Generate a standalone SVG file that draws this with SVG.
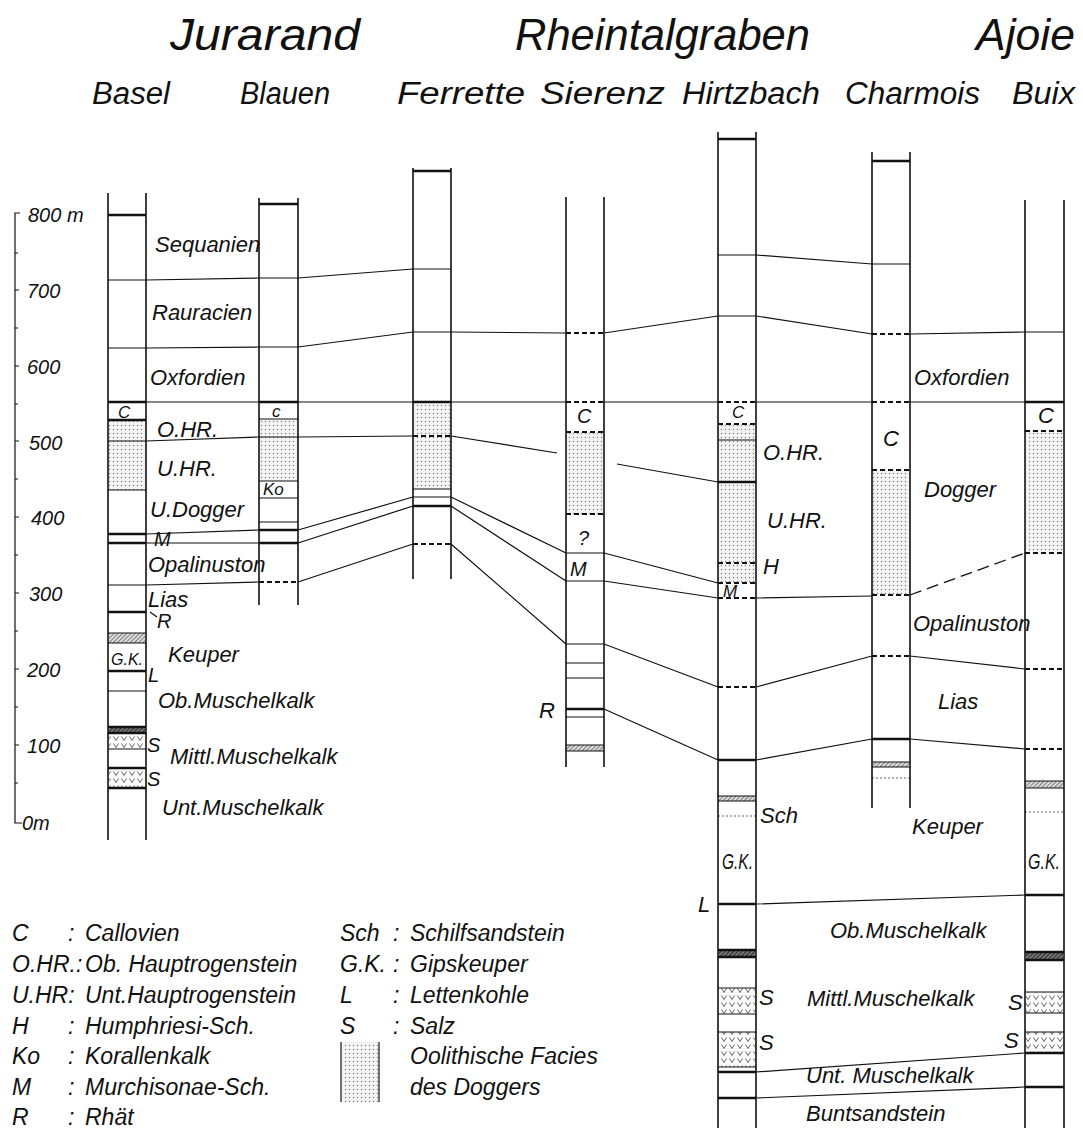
<svg xmlns="http://www.w3.org/2000/svg" width="1083" height="1128" viewBox="0 0 1083 1128">
<defs>
<style>
text{font-family:"Liberation Sans",Arial,sans-serif;font-style:italic;fill:#111}
.t1{font-size:45px}
.t2{font-size:31px}
.lb{font-size:22px}
.sm{font-size:17px}
.sc{font-size:20px}
.lg{font-size:23px}
.v{stroke:#111;stroke-width:1.6;fill:none}
.n{stroke:#111;stroke-width:1.2;fill:none}
.k{stroke:#111;stroke-width:2.6;fill:none}
.d{stroke:#111;stroke-width:1.8;fill:none;stroke-dasharray:5 3}
.o{stroke:#666;stroke-width:1;fill:none;stroke-dasharray:2 2}
.ld{stroke:#111;stroke-width:1.3;fill:none;stroke-dasharray:12 6}
.dots{fill:url(#dots)}
.hat{fill:url(#hatch)}
.dark{fill:url(#dark)}
.salt{fill:url(#salt)}
</style>
<pattern id="dots" width="4" height="4" patternUnits="userSpaceOnUse"><rect width="4" height="4" fill="#f4f4f4"/><circle cx="1.5" cy="1.5" r="0.7" fill="#777"/></pattern>
<pattern id="hatch" width="3" height="3" patternUnits="userSpaceOnUse" patternTransform="rotate(45)"><rect width="3" height="3" fill="#ddd"/><line x1="0" y1="0" x2="0" y2="3" stroke="#555" stroke-width="1.4"/></pattern>
<pattern id="dark" width="3" height="3" patternUnits="userSpaceOnUse" patternTransform="rotate(45)"><rect width="3" height="3" fill="#777"/><line x1="0" y1="0" x2="0" y2="3" stroke="#111" stroke-width="1.5"/></pattern>
<pattern id="salt" width="8" height="7" patternUnits="userSpaceOnUse"><rect width="8" height="7" fill="#fafafa"/><path d="M1.5 1.5L4 5.5L6.5 1.5" stroke="#444" stroke-width="0.8" fill="none"/></pattern>
</defs>
<rect width="1083" height="1128" fill="#fff"/>

<g id="titles">
<text class="t1" x="170" y="50" textLength="190" lengthAdjust="spacingAndGlyphs">Jurarand</text>
<text class="t1" x="515" y="50" textLength="295" lengthAdjust="spacingAndGlyphs">Rheintalgraben</text>
<text class="t1" x="976" y="50" textLength="99" lengthAdjust="spacingAndGlyphs">Ajoie</text>
<text class="t2" x="92" y="104" textLength="78" lengthAdjust="spacingAndGlyphs">Basel</text>
<text class="t2" x="240" y="104" textLength="90" lengthAdjust="spacingAndGlyphs">Blauen</text>
<text class="t2" x="397" y="104" textLength="128" lengthAdjust="spacingAndGlyphs">Ferrette</text>
<text class="t2" x="540" y="104" textLength="125" lengthAdjust="spacingAndGlyphs">Sierenz</text>
<text class="t2" x="682" y="104" textLength="138" lengthAdjust="spacingAndGlyphs">Hirtzbach</text>
<text class="t2" x="845" y="104" textLength="135" lengthAdjust="spacingAndGlyphs">Charmois</text>
<text class="t2" x="1012" y="104" textLength="63" lengthAdjust="spacingAndGlyphs">Buix</text>
</g>

<g id="scale">
<path class="n" d="M20 213H15V823H22"/>
<path class="n" d="M15 253H18M15 290H19M15 328H18M15 366H19M15 404H18M15 441H19M15 479H18M15 517H19M15 555H18M15 593H19M15 631H18M15 669H19M15 707H18M15 745H19M15 783H18"/>
<text class="sc" x="28" y="222">800 m</text>
<text class="sc" x="27" y="298">700</text>
<text class="sc" x="27" y="374">600</text>
<text class="sc" x="29" y="450">500</text>
<text class="sc" x="31" y="525">400</text>
<text class="sc" x="29" y="601">300</text>
<text class="sc" x="27" y="677">200</text>
<text class="sc" x="27" y="753">100</text>
<text class="sc" x="22" y="830">0m</text>
</g>

<g id="connectors">
<path class="n" d="M146 280L259 278M146 348L259 347M146 402L259 402M146 441L259 437M146 534L259 530M146 543L259 543M146 585L259 582"/>
<path class="n" d="M298 278L413 269M298 347L413 332M298 402L413 402M298 437L413 436M298 530L413 497M298 543L413 506M298 582L413 544"/>
<path class="n" d="M451 332L566 333M451 402L566 402M451 436L557 453M451 497L566 553M451 506L566 581M451 544L566 644"/>
<path class="n" d="M604 333L718 316M604 402L718 402M617 464L718 482M604 553L718 583M604 581L718 598M604 644L718 687M604 709L718 760"/>
<path class="n" d="M756 255L872 264M756 316L872 334M756 402L872 402M756 598L872 596M756 687L872 656M756 760L872 739"/>
<path class="n" d="M910 334L1025 332M910 402L1025 402M910 656L1025 669M910 739L1025 749"/>
<path class="ld" d="M910 595L1025 553"/>
<path class="n" d="M756 904L1025 895M756 1072L1025 1053M756 1098L1025 1087"/>
</g>

<g id="col-basel">
<rect class="dots" x="109" y="421" width="36" height="69"/>
<rect class="hat" x="109" y="633" width="36" height="10"/>
<rect class="dark" x="109" y="727" width="36" height="6"/>
<rect class="salt" x="109" y="736" width="36" height="12"/>
<rect class="salt" x="109" y="769" width="36" height="19"/>
<path class="n" d="M108 280H146M108 348H146M108 441H146M108 490H146M108 585H146M108 633H146M108 643H146M108 691H146M108 749H146"/>
<path class="k" d="M108 215H146M108 402H146M108 420H146M108 534H146M108 543H146M108 612H146M108 671H146M108 727H146M108 733H146M108 768H146M108 788H146"/>
<path class="v" d="M108 193V840M146 193V840"/>
<text class="sm" x="118" y="418">C</text>
<text class="sm" x="111" y="665" textLength="32" lengthAdjust="spacingAndGlyphs">G.K.</text>
</g>

<g id="col-blauen">
<rect class="dots" x="260" y="419" width="37" height="62"/>
<path class="n" d="M259 278H298M259 347H298M259 419H298M259 437H298M259 481H298M259 498H298M259 522H298"/>
<path class="k" d="M259 204H298M259 402H298M259 530H298M259 543H298"/>
<path class="d" d="M259 582H298"/>
<path class="v" d="M259 198V605M298 198V605"/>
<text class="sm" x="272" y="417">c</text>
<text class="sm" x="263" y="495">Ko</text>
</g>

<g id="col-ferrette">
<rect class="dots" x="414" y="404" width="36" height="85"/>
<path class="n" d="M413 269H451M413 332H451M413 489H451M413 497H451"/>
<path class="k" d="M413 171H451M413 402H451M413 506H451"/>
<path class="d" d="M413 436H451M413 544H451"/>
<path class="v" d="M413 168V579M451 168V579"/>
</g>

<g id="col-sierenz">
<rect class="dots" x="567" y="432" width="36" height="82"/>
<rect class="hat" x="567" y="745" width="36" height="6"/>
<path class="d" d="M566 333H604M566 402H604M566 432H604M566 514H604"/>
<path class="n" d="M566 553H604M566 581H604M566 644H604M566 663H604M566 678H604M566 717H604M566 745H604M566 751H604"/>
<path class="k" d="M566 709H604"/>
<path class="v" d="M566 197V767M604 197V767"/>
<text class="sc" x="577" y="423">C</text>
<text class="sc" x="578" y="545">?</text>
<text class="sc" x="570" y="576">M</text>
<text class="lb" x="539" y="718">R</text>
</g>

<g id="col-hirtzbach">
<rect class="dots" x="719" y="424" width="36" height="159"/>
<rect class="hat" x="719" y="796" width="36" height="5"/>
<rect class="dark" x="719" y="950" width="36" height="7"/>
<rect class="salt" x="719" y="988" width="36" height="26"/>
<rect class="salt" x="719" y="1032" width="36" height="35"/>
<path class="n" d="M718 255H756M718 316H756M718 440H756M718 796H756M718 801H756M718 988H756M718 1014H756M718 1032H756M718 1067H756"/>
<path class="k" d="M718 139H756M718 482H756M718 760H756M718 904H756M718 950H756M718 957H756M718 1072H756M718 1098H756"/>
<path class="d" d="M718 402H756M718 424H756M718 563H756M718 583H756M718 598H756M718 687H756"/>
<path class="o" d="M718 816H756"/>
<path class="v" d="M718 132V1128M756 132V1128"/>
<text class="sm" x="732" y="418">C</text>
<text class="sm" x="723" y="597">M</text>
<text class="lb" x="722" y="869" textLength="31" lengthAdjust="spacingAndGlyphs">G.K.</text>
</g>

<g id="col-charmois">
<rect class="dots" x="873" y="470" width="36" height="125"/>
<rect class="hat" x="873" y="762" width="36" height="5"/>
<path class="n" d="M872 264H910M872 762H910M872 767H910"/>
<path class="k" d="M872 161H910M872 739H910"/>
<path class="d" d="M872 334H910M872 402H910M872 470H910M872 595H910M872 656H910"/>
<path class="o" d="M872 778H910"/>
<path class="v" d="M872 152V808M910 152V808"/>
<text class="lb" x="883" y="446">C</text>
</g>

<g id="col-buix">
<rect class="dots" x="1026" y="431" width="37" height="122"/>
<rect class="hat" x="1026" y="781" width="37" height="7"/>
<rect class="dark" x="1026" y="952" width="37" height="8"/>
<rect class="salt" x="1026" y="992" width="37" height="21"/>
<rect class="salt" x="1026" y="1032" width="37" height="20"/>
<path class="n" d="M1025 332H1064M1025 781H1064M1025 788H1064M1025 992H1064M1025 1013H1064M1025 1032H1064"/>
<path class="k" d="M1025 402H1064M1025 895H1064M1025 952H1064M1025 960H1064M1025 1053H1064M1025 1087H1064"/>
<path class="d" d="M1025 431H1064M1025 553H1064M1025 669H1064M1025 749H1064"/>
<path class="o" d="M1025 812H1064"/>
<path class="v" d="M1025 200V1128M1064 200V1128"/>
<text class="lb" x="1038" y="423">C</text>
<text class="lb" x="1028" y="869" textLength="32" lengthAdjust="spacingAndGlyphs">G.K.</text>
</g>

<g id="labels">
<text class="lb" x="155" y="252">Sequanien</text>
<text class="lb" x="152" y="320">Rauracien</text>
<text class="lb" x="150" y="385">Oxfordien</text>
<text class="lb" x="157" y="437">O.HR.</text>
<text class="lb" x="157" y="476">U.HR.</text>
<text class="lb" x="150" y="517">U.Dogger</text>
<text class="sc" x="154" y="546">M</text>
<text class="lb" x="148" y="572">Opalinuston</text>
<text class="lb" x="148" y="607">Lias</text>
<path class="n" d="M150 612L157 617"/>
<text class="sc" x="157" y="628">R</text>
<text class="lb" x="168" y="662">Keuper</text>
<text class="sc" x="148" y="682">L</text>
<text class="lb" x="158" y="708">Ob.Muschelkalk</text>
<text class="sc" x="147" y="752">S</text>
<text class="lb" x="170" y="764">Mittl.Muschelkalk</text>
<text class="sc" x="147" y="786">S</text>
<text class="lb" x="162" y="815">Unt.Muschelkalk</text>
<text class="lb" x="763" y="460">O.HR.</text>
<text class="lb" x="767" y="528">U.HR.</text>
<text class="lb" x="763" y="574">H</text>
<text class="lb" x="760" y="823">Sch</text>
<text class="lb" x="698" y="912">L</text>
<text class="lb" x="759" y="1005">S</text>
<text class="lb" x="759" y="1050">S</text>
<text class="lb" x="914" y="385">Oxfordien</text>
<text class="lb" x="924" y="497">Dogger</text>
<text class="lb" x="913" y="631">Opalinuston</text>
<text class="lb" x="938" y="709">Lias</text>
<text class="lb" x="912" y="834">Keuper</text>
<text class="lb" x="830" y="938">Ob.Muschelkalk</text>
<text class="lb" x="807" y="1006">Mittl.Muschelkalk</text>
<text class="lb" x="1008" y="1010">S</text>
<text class="lb" x="1004" y="1048">S</text>
<text class="lb" x="806" y="1083">Unt. Muschelkalk</text>
<text class="lb" x="806" y="1121">Buntsandstein</text>
</g>

<g id="legend">
<text class="lg" x="12" y="941">C</text><text class="lg" x="68" y="941">:</text><text class="lg" x="85" y="941">Callovien</text>
<text class="lg" x="12" y="972">O.HR.:</text><text class="lg" x="85" y="972">Ob. Hauptrogenstein</text>
<text class="lg" x="12" y="1003">U.HR:</text><text class="lg" x="85" y="1003">Unt.Hauptrogenstein</text>
<text class="lg" x="12" y="1034">H</text><text class="lg" x="68" y="1034">:</text><text class="lg" x="85" y="1034">Humphriesi-Sch.</text>
<text class="lg" x="12" y="1064">Ko</text><text class="lg" x="68" y="1064">:</text><text class="lg" x="85" y="1064">Korallenkalk</text>
<text class="lg" x="12" y="1095">M</text><text class="lg" x="68" y="1095">:</text><text class="lg" x="85" y="1095">Murchisonae-Sch.</text>
<text class="lg" x="12" y="1125">R</text><text class="lg" x="68" y="1125">:</text><text class="lg" x="85" y="1125">Rhät</text>
<text class="lg" x="340" y="941">Sch</text><text class="lg" x="393" y="941">:</text><text class="lg" x="410" y="941">Schilfsandstein</text>
<text class="lg" x="340" y="972">G.K.</text><text class="lg" x="393" y="972">:</text><text class="lg" x="410" y="972">Gipskeuper</text>
<text class="lg" x="340" y="1003">L</text><text class="lg" x="393" y="1003">:</text><text class="lg" x="410" y="1003">Lettenkohle</text>
<text class="lg" x="340" y="1034">S</text><text class="lg" x="393" y="1034">:</text><text class="lg" x="410" y="1034">Salz</text>
<rect class="dots" x="342" y="1042" width="36" height="60"/>
<path class="n" d="M341 1042V1102M379 1042V1102"/>
<text class="lg" x="410" y="1064">Oolithische Facies</text>
<text class="lg" x="410" y="1095">des Doggers</text>
</g>
</svg>
